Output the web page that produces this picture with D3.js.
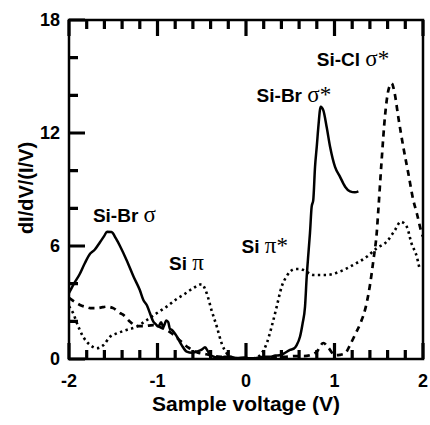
<!DOCTYPE html>
<html>
<head>
<meta charset="utf-8">
<script src="https://cdn.jsdelivr.net/npm/d3@7"></script>
<style>
  body { margin: 0; background: #fff; }
  svg { display: block; }
</style>
</head>
<body>
<svg width="430" height="425"></svg>
<script>
//chart size and plot frame
const width = 430;
const height = 425;
const margin = { top: 20, right: 7, bottom: 66, left: 69 };
const plot_w = width - margin.left - margin.right;
const plot_h = height - margin.top - margin.bottom;

//tick values
const x_major = [-2, -1, 0, 1, 2];
const y_major = [0, 6, 12, 18];

//Si-Br (solid)
const br_x = [-2, -1.95, -1.88, -1.82, -1.76, -1.71, -1.65, -1.6, -1.57, -1.52, -1.47, -1.42, -1.35, -1.27, -1.2, -1.16, -1.12, -1.085, -1.047, -1.02, -0.99, -0.96, -0.934, -0.9, -0.878, -0.86, -0.84, -0.81, -0.78, -0.727, -0.67, -0.61, -0.557, -0.5, -0.463, -0.43, -0.407, -0.35, -0.294, -0.24, -0.18, -0.1, -0.02, 0.05, 0.12, 0.2, 0.27, 0.33, 0.38, 0.43, 0.497, 0.54, 0.573, 0.61, 0.64, 0.667, 0.686, 0.705, 0.723, 0.742, 0.76, 0.78, 0.8, 0.817, 0.844, 0.874, 0.912, 0.95, 1.006, 1.06, 1.12, 1.175, 1.23, 1.27];
const br_y = [3.5, 3.95, 4.5, 5.1, 5.6, 5.8, 6.2, 6.55, 6.76, 6.74, 6.4, 5.96, 5.26, 4.37, 3.66, 3.13, 2.85, 2.43, 1.98, 1.85, 1.72, 1.95, 1.7, 2.05, 1.95, 1.6, 1.55, 1.4, 1.18, 0.74, 0.39, 0.33, 0.39, 0.5, 0.62, 0.4, 0.21, 0.1, 0.04, 0.12, 0.12, 0.05, 0.08, 0.02, 0.06, 0.12, 0.12, 0.18, 0.2, 0.3, 0.48, 0.55, 0.74, 1.18, 1.9, 2.78, 4.37, 5.6, 6.7, 8.09, 8.44, 10.2, 11.3, 12.3, 13.4, 13.2, 12.3, 11.27, 10.2, 9.7, 9.15, 8.9, 8.85, 8.9];

//Si-Cl (dashed)
const cl_x = [-2, -1.94, -1.876, -1.8, -1.76, -1.69, -1.62, -1.57, -1.5, -1.42, -1.386, -1.31, -1.235, -1.15, -1.05, -0.95, -0.85, -0.75, -0.65, -0.55, -0.45, -0.35, -0.25, -0.15, -0.05, 0.05, 0.15, 0.25, 0.35, 0.45, 0.55, 0.65, 0.723, 0.8, 0.874, 0.93, 1.006, 1.06, 1.12, 1.175, 1.23, 1.3, 1.35, 1.4, 1.44, 1.477, 1.495, 1.533, 1.57, 1.61, 1.646, 1.68, 1.72, 1.777, 1.834, 1.89, 1.93, 1.985, 2.0];
const cl_y = [3.24, 3.05, 2.87, 2.75, 2.7, 2.7, 2.75, 2.78, 2.7, 2.43, 2.34, 1.98, 1.75, 1.75, 1.8, 1.65, 1.4, 1.0, 0.6, 0.35, 0.25, 0.15, 0.1, 0.05, 0.03, 0.03, 0.05, 0.08, 0.1, 0.12, 0.15, 0.15, 0.2, 0.39, 0.85, 0.6, 0.2, 0.22, 0.3, 0.74, 1.27, 1.98, 2.7, 3.9, 5.26, 6.69, 7.9, 10.57, 12.87, 14.29, 14.64, 14.1, 12.87, 11.27, 9.86, 8.44, 7.74, 6.69, 6.5];

//Si pi (dotted)
const pi_x = [-2, -1.95, -1.91, -1.84, -1.76, -1.687, -1.61, -1.537, -1.46, -1.35, -1.235, -1.12, -1.01, -0.896, -0.78, -0.71, -0.6, -0.5, -0.444, -0.39, -0.33, -0.275, -0.218, -0.15, -0.05, 0.05, 0.12, 0.177, 0.234, 0.29, 0.347, 0.403, 0.46, 0.5, 0.554, 0.6, 0.648, 0.76, 0.912, 1.06, 1.21, 1.364, 1.477, 1.59, 1.684, 1.748, 1.816, 1.87, 1.93, 1.96];
const pi_y = [2.8, 2.4, 1.9, 1.18, 0.74, 0.57, 0.74, 1.18, 1.36, 1.54, 1.72, 2.07, 2.43, 2.78, 3.2, 3.4, 3.75, 3.97, 3.49, 2.6, 1.72, 0.83, 0.3, 0.08, 0.02, 0.02, 0.08, 0.3, 0.83, 1.72, 2.78, 3.84, 4.4, 4.65, 4.78, 4.78, 4.73, 4.46, 4.46, 4.64, 4.99, 5.43, 5.88, 6.23, 6.85, 7.29, 7.03, 6.14, 5.43, 4.82];

//peak labels
const labels = [
    { name: "Si-Br ", greek: "σ", x: -1.73, y: 7.3 },
    { name: "Si ", greek: "π", x: -0.87, y: 4.7 },
    { name: "Si ", greek: "π*", x: -0.05, y: 5.65 },
    { name: "Si-Br ", greek: "σ*", x: 0.12, y: 13.65 },
    { name: "Si-Cl ", greek: "σ*", x: 0.8, y: 15.55 }
];

const font = "'Liberation Sans', Arial, Helvetica, sans-serif";
const serif = "'Liberation Serif', 'Times New Roman', serif";

const svg = d3.select("svg");

const g = svg.append("g")
    .attr("transform", `translate(${margin.left}, ${margin.top})`);

const x = d3.scaleLinear().domain([-2, 2]).range([0, plot_w]);
const y = d3.scaleLinear().domain([0, 18]).range([plot_h, 0]);

//minor ticks
const x_minor = d3.range(-2, 2.001, 0.2).map(v => +v.toFixed(1)).filter(v => !x_major.includes(v));
const y_minor = d3.range(0, 18.001, 2).filter(v => !y_major.includes(v));
const xt = x_major.map(v => ({ v, len: 16 })).concat(x_minor.map(v => ({ v, len: 9 })));
const yt = y_major.map(v => ({ v, len: 16 })).concat(y_minor.map(v => ({ v, len: 9 })));

//tick labels
g.selectAll(".xlab")
    .data(x_major)
    .enter()
    .append("text")
    .attr("class", "xlab")
    .attr("x", d => x(d))
    .attr("y", plot_h + 28)
    .attr("text-anchor", "middle")
    .style("font-family", font)
    .style("font-size", "18px")
    .style("font-weight", "bold")
    .text(d => String(d));

g.selectAll(".ylab")
    .data(y_major)
    .enter()
    .append("text")
    .attr("class", "ylab")
    .attr("x", -9)
    .attr("y", d => y(d))
    .attr("dy", "0.36em")
    .attr("text-anchor", "end")
    .style("font-family", font)
    .style("font-size", "18px")
    .style("font-weight", "bold")
    .text(d => String(d));

//curves, clipped to the frame
g.append("clipPath").attr("id", "clip")
    .append("rect").attr("width", plot_w).attr("height", plot_h);

const line = d3.line()
    .x(d => x(d[0]))
    .y(d => y(d[1]))
    .curve(d3.curveMonotoneX);

const curves = g.append("g").attr("clip-path", "url(#clip)");

curves.append("path")
    .datum(d3.zip(pi_x, pi_y))
    .attr("d", line)
    .attr("fill", "none")
    .attr("stroke", "#000")
    .attr("stroke-width", 2.6)
    .attr("stroke-dasharray", "2.4,3.4");

curves.append("path")
    .datum(d3.zip(cl_x, cl_y))
    .attr("d", line)
    .attr("fill", "none")
    .attr("stroke", "#000")
    .attr("stroke-width", 2.7)
    .attr("stroke-dasharray", "6,5");

curves.append("path")
    .datum(d3.zip(br_x, br_y))
    .attr("d", line)
    .attr("fill", "none")
    .attr("stroke", "#000")
    .attr("stroke-width", 2.5)
    .attr("stroke-linejoin", "round");

//frame
g.append("rect")
    .attr("width", plot_w)
    .attr("height", plot_h)
    .attr("fill", "none")
    .attr("stroke", "#000")
    .attr("stroke-width", 2.5);

//inward ticks, bottom, top and left, drawn last so nothing covers them
const tk = d3.path();
xt.forEach(d => {
    tk.moveTo(x(d.v), plot_h);
    tk.lineTo(x(d.v), plot_h - d.len);
    tk.moveTo(x(d.v), 0);
    tk.lineTo(x(d.v), d.len);
});
yt.forEach(d => {
    tk.moveTo(0, y(d.v));
    tk.lineTo(d.len, y(d.v));
});
g.append("path")
    .attr("d", tk.toString())
    .attr("fill", "none")
    .attr("stroke", "#000")
    .attr("stroke-width", 3.2);

//peak labels
labels.forEach(l => {
    const t = g.append("text")
        .attr("x", x(l.x))
        .attr("y", y(l.y))
        .attr("fill", "#000");
    t.append("tspan")
        .style("font-family", font)
        .style("font-size", "19px")
        .style("font-weight", "bold")
        .text(l.name);
    t.append("tspan")
        .style("font-family", serif)
        .style("font-size", "23px")
        .text(l.greek);
});

//axis titles
g.append("text")
    .attr("x", plot_w / 2)
    .attr("y", plot_h + 52)
    .attr("text-anchor", "middle")
    .style("font-family", font)
    .style("font-size", "21px")
    .style("font-weight", "bold")
    .text("Sample voltage (V)");

g.append("text")
    .attr("transform", "rotate(-90)")
    .attr("x", -(188 - margin.top))
    .attr("y", 33 - margin.left)
    .attr("text-anchor", "middle")
    .style("font-family", font)
    .style("font-size", "20px")
    .style("font-weight", "bold")
    .text("dI/dV/(I/V)");
</script>
</body>
</html>
